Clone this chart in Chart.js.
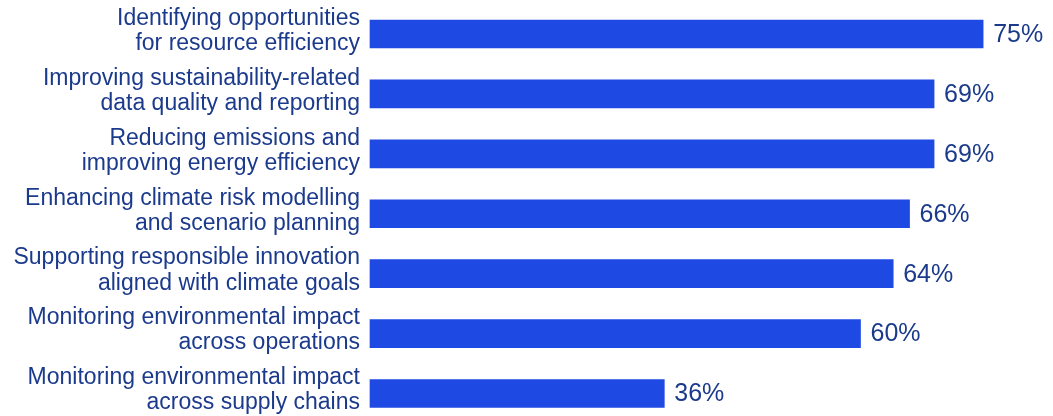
<!DOCTYPE html>
<html>
<head>
<meta charset="utf-8">
<script src="https://cdn.jsdelivr.net/npm/chart.js@4"></script>
<style>
html,body{margin:0;padding:0;background:#fff;}
#wrap{width:1053px;height:416px;position:relative;}
</style>
</head>
<body>
<div id="wrap"><canvas id="c" width="1053" height="416"></canvas></div>
<script>
const categories = [
  ["Identifying opportunities", "for resource efficiency"],
  ["Improving sustainability-related", "data quality and reporting"],
  ["Reducing emissions and", "improving energy efficiency"],
  ["Enhancing climate risk modelling", "and scenario planning"],
  ["Supporting responsible innovation", "aligned with climate goals"],
  ["Monitoring environmental impact", "across operations"],
  ["Monitoring environmental impact", "across supply chains"]
];
const values = [75, 69, 69, 66, 64, 60, 36];
const valueSuffix = "%";

const BAR = '#1E49E2';
const TEXT = '#1B3A8C';
const FONT = "'Liberation Sans', Arial, sans-serif";

const valueLabels = {
  id: 'valueLabels',
  afterDatasetsDraw(chart) {
    const ctx = chart.ctx;
    const meta = chart.getDatasetMeta(0);
    ctx.save();
    ctx.font = "25px " + FONT;
    ctx.fillStyle = TEXT;
    ctx.textAlign = 'left';
    ctx.textBaseline = 'middle';
    meta.data.forEach((el, i) => {
      ctx.fillText(values[i] + valueSuffix, el.x + 10, el.y + 1);
    });
    ctx.restore();
  }
};

new Chart(document.getElementById('c'), {
  type: 'bar',
  data: {
    labels: categories,
    datasets: [{
      data: values,
      backgroundColor: BAR,
      borderWidth: 0,
      barThickness: 28,
      clip: false
    }]
  },
  options: {
    indexAxis: 'y',
    responsive: false,
    animation: false,
    layout: { padding: { top: 34, bottom: 22.5, left: 0, right: 29 } },
    plugins: { legend: { display: false }, tooltip: { enabled: false } },
    scales: {
      x: {
        display: false,
        min: 0,
        max: 80
      },
      y: {
        offset: false,
        grid: { display: false, drawTicks: false },
        border: { display: false },
        afterFit(scale) {
          scale.width = 370;
          scale.paddingTop = 0;
          scale.paddingBottom = 0;
        },
        ticks: {
          color: TEXT,
          padding: 10,
          labelOffset: -3,
          autoSkip: false,
          font: { family: FONT, size: 23, lineHeight: 1.09 }
        }
      }
    }
  },
  plugins: [valueLabels]
});
</script>
</body>
</html>
